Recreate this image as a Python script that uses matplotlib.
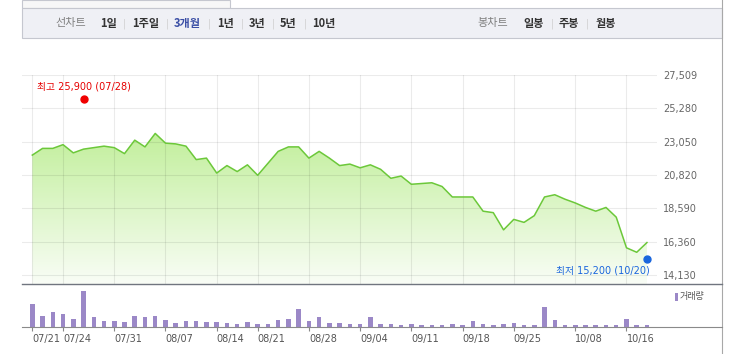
import numpy as np
import matplotlib
matplotlib.use('Agg')
import matplotlib.pyplot as plt
from matplotlib.patches import Rectangle, Polygon
from matplotlib.lines import Line2D
from matplotlib.colors import LinearSegmentedColormap

plt.rcParams['font.family'] = ['DejaVu Sans', 'Noto Sans CJK KR']

# daily close (won), one value per trading day
close = [22150, 22600, 22600, 22850, 22300, 22550, 22650, 22750, 22650, 22250,
         23150, 22700, 23600, 22950, 22900, 22750, 21850, 21950, 20950, 21450,
         21050, 21500, 20800, 21600, 22400, 22700, 22700, 21950, 22400, 21950,
         21450, 21550, 21300, 21500, 21200, 20600, 20750, 20200, 20250, 20300,
         20050, 19350, 19350, 19350, 18400, 18300, 17150, 17850, 17650, 18100,
         19350, 19500, 19200, 18950, 18650, 18400, 18650, 18000, 15950, 15650,
         16300]

# daily volume (thousand shares)
volume = [235, 115, 155, 135, 85, 365, 105, 65, 65, 55,
          115, 105, 115, 75, 45, 65, 65, 55, 55, 45,
          35, 55, 35, 35, 75, 85, 185, 65, 105, 45,
          45, 35, 35, 105, 35, 35, 25, 35, 25, 25,
          25, 35, 25, 65, 35, 25, 35, 45, 25, 25,
          205, 75, 25, 25, 25, 25, 25, 25, 85, 25,
          25]

price_ticks = [14130, 16360, 18590, 20820, 23050, 25280, 27509]
date_idx = [0, 3, 8, 13, 18, 22, 27, 32, 37, 42, 47, 53, 58]
date_labels = ['07/21', '07/24', '07/31', '08/07', '08/14', '08/21', '08/28',
               '09/04', '09/11', '09/18', '09/25', '10/08', '10/16']

hi_idx, hi_val, hi_label = 5, 25900, '최고 25,900 (07/28)'
lo_idx, lo_val, lo_label = 60, 15200, '최저 15,200 (10/20)'

W, H = 730, 354
def fx(p):
    return p / W
def fy(p):
    return 1 - p / H

fig = plt.figure(figsize=(7.3, 3.54), dpi=100)
fig.patch.set_facecolor('white')

# header bar
fig.patches.append(Rectangle((fx(22), fy(7.7)), fx(230) - fx(22), 7.7 / H,
                             transform=fig.transFigure, facecolor='#f7f7f7',
                             edgecolor='#c5c7cf', lw=0.8))
fig.patches.append(Rectangle((fx(22), fy(38.3)), fx(722) - fx(22), (38.3 - 7.7) / H,
                             transform=fig.transFigure, facecolor='#eff0f5',
                             edgecolor='#c5c7cf', lw=0.8))
fig.lines.append(Line2D([fx(722), fx(722)], [0, 1], transform=fig.transFigure,
                        color='#a8a8a8', lw=0.8))

kr = ['Noto Sans CJK KR']
hy = fy(23.3)
fig.text(fx(55), hy, '선차트', family=kr, fontsize=8, color='#808080', va='center')
items = [(100, '1일'), (132, '1주일'), (174, '3개월'), (217, '1년'),
         (249, '3년'), (280, '5년'), (312, '10년')]
for px, s in items:
    c = '#3a4ea5' if s == '3개월' else '#333333'
    fig.text(fx(px), hy, s, family=kr, fontsize=8, weight='bold', color=c, va='center')
for px in [124, 167, 209, 242, 273, 305]:
    fig.text(fx(px), hy, '|', fontsize=7, color='#d0d0d0', va='center', ha='center')
fig.text(fx(477), hy, '봉차트', family=kr, fontsize=8, color='#808080', va='center')
for px, s in [(523, '일봉'), (559, '주봉'), (596, '월봉')]:
    fig.text(fx(px), hy, s, family=kr, fontsize=8, weight='bold', color='#333333', va='center')
for px in [552, 587]:
    fig.text(fx(px), hy, '|', fontsize=7, color='#d0d0d0', va='center', ha='center')

x = np.arange(len(close))
xlim = (-1.005, 60.98)

# price panel
ax = fig.add_axes([fx(22), fy(284.3), fx(657) - fx(22), (284.3 - 75) / H])
ylim = (13508, 27509)
grad = np.linspace(0, 1, 256).reshape(-1, 1)
cmap = LinearSegmentedColormap.from_list('g', ['#f9fdf6', '#c2ef9c'])
im = ax.imshow(grad, extent=[x[0], x[-1], ylim[0], max(close)], origin='lower',
               aspect='auto', cmap=cmap, zorder=1)
poly = Polygon(np.column_stack([np.r_[x[0], x, x[-1]], np.r_[ylim[0], close, ylim[0]]]),
               facecolor='none', edgecolor='none')
ax.add_patch(poly)
im.set_clip_path(poly)

for v in price_ticks:
    ax.axhline(v, color=(0, 0, 0, 0.08), lw=0.8, zorder=2)
for t in date_idx:
    ax.axvline(t, color=(0, 0, 0, 0.08), lw=0.8, zorder=2)

ax.plot(x, close, color='#6cc83a', lw=1.1, zorder=3)

ax.plot(hi_idx, hi_val, 'o', color='#f00000', ms=5, zorder=4, clip_on=False)
ax.annotate(hi_label, (hi_idx, hi_val), xytext=(0, 9), textcoords='offset points',
            ha='center', va='center', color='#e60000', fontsize=7, annotation_clip=False)
ax.plot(lo_idx, lo_val, 'o', color='#1a66dd', ms=5, zorder=4, clip_on=False)
ax.annotate(lo_label, (lo_idx, lo_val), xytext=(2, -8.4), textcoords='offset points',
            ha='right', va='center', color='#1a66dd', fontsize=7, annotation_clip=False)

ax.set_xlim(*xlim)
ax.set_ylim(*ylim)
ax.set_xticks([])
ax.yaxis.tick_right()
ax.set_yticks(price_ticks, [f'{v:,}' for v in price_ticks])
ax.tick_params(axis='y', length=0, pad=4.3, labelsize=7, labelcolor='#666666')
for s in ax.spines.values():
    s.set_visible(False)

# volume panel
vx = fig.add_axes([fx(22), fy(327.3), fx(657) - fx(22), (327.3 - 284.3) / H])
vx.bar(x, volume, width=0.44, color='#9b88c7')
vx.set_xlim(*xlim)
vx.set_ylim(0, max(volume) * 43 / 36.6)
vx.set_yticks([])
vx.set_xticks(date_idx, date_labels)
vx.tick_params(axis='x', length=3, color='#888888', pad=2, labelsize=7, labelcolor='#555555')
for lbl in vx.get_xticklabels():
    lbl.set_ha('left')
for s in vx.spines.values():
    s.set_visible(False)

fig.lines.append(Line2D([fx(22), fx(722)], [fy(284.3), fy(284.3)], transform=fig.transFigure,
                        color='#70757f', lw=1.0))
fig.lines.append(Line2D([fx(22), fx(722)], [fy(327.3), fy(327.3)], transform=fig.transFigure,
                        color='#8a8a8a', lw=0.8))

fig.patches.append(Rectangle((fx(675), fy(300.7)), 3 / W, 7.7 / H, transform=fig.transFigure,
                             facecolor='#9b88c7', edgecolor='none'))
fig.text(fx(680), fy(297), '거래량', family=kr, fontsize=6.5, color='#555555', va='center')

fig.savefig('out.png', dpi=100)
